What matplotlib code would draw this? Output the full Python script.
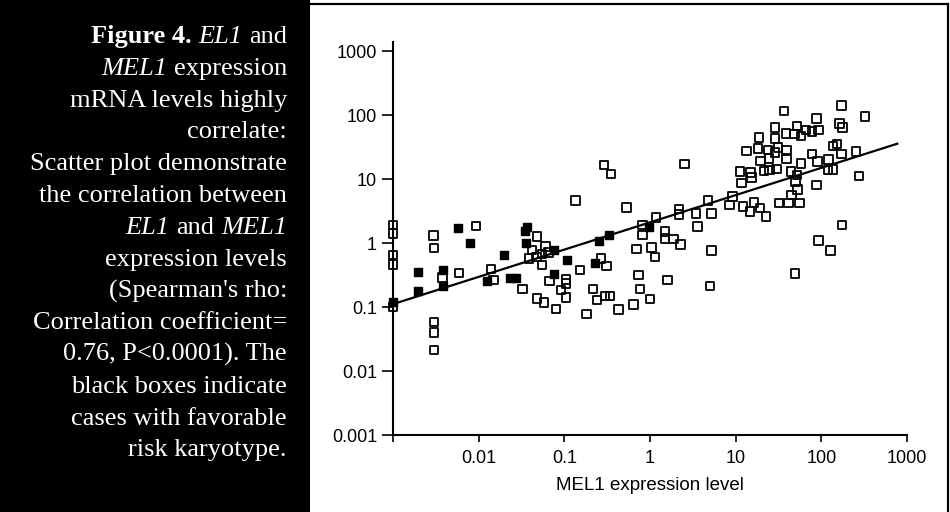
import matplotlib
matplotlib.use("Agg")
import matplotlib.pyplot as plt
from matplotlib.ticker import NullLocator
from matplotlib.lines import Line2D
from matplotlib.patches import Rectangle

# MEL1 (x) vs EL1 (y) expression, open boxes = other karyotypes
open_x = [0.001, 0.001, 0.001, 0.001, 0.001,
          0.00295, 0.0030, 0.0093, 0.0038, 0.0059,
          0.0030, 0.0030, 0.0030, 0.0139, 0.0148,
          0.292, 0.35, 0.136, 0.53, 0.82, 0.82,
          0.048, 0.042, 0.0605, 0.0386, 0.0475, 0.055, 0.065,
          0.055, 0.067, 0.105, 0.105, 0.091, 0.105, 0.0326,
          0.048, 0.058, 0.080, 0.152, 0.267, 0.312, 0.217,
          0.242, 0.30, 0.34, 0.182, 0.43, 0.64, 0.70, 0.73, 0.76,
          1.0, 1.04, 1.14, 1.49, 1.49, 1.87, 2.28, 5.2, 1.59, 5.0,
          2.51, 1.17, 2.19, 2.19, 3.43, 5.2, 3.59, 4.77,
          8.5, 9.2, 12.2, 14.7, 16.4, 19.2, 22.5,
          32, 41.5, 56, 45, 11.2, 14.9, 15.3, 11.7,
          21.3, 25, 30, 13.4, 18.3, 19.5, 23.9, 24.6, 28.7, 31.3,
          39.3, 39.3, 18.8, 28.7, 28.7, 38.8, 48.5, 58, 36.5,
          171, 323, 87.7, 51.9, 66, 78, 93, 164, 176, 152, 137,
          78, 90.6, 122, 171, 253, 120, 137, 276, 58, 44, 52,
          50, 88, 53, 175, 93, 127, 49]
open_y = [1.91, 1.42, 0.65, 0.46, 0.10,
          1.30, 0.83, 1.85, 0.29, 0.34,
          0.058, 0.040, 0.0213, 0.39, 0.264,
          16.5, 12.0, 4.6, 3.6, 1.91, 1.33,
          1.26, 0.78, 0.875, 0.577, 0.60, 0.67, 0.71,
          0.45, 0.255, 0.27, 0.234, 0.185, 0.142, 0.19,
          0.137, 0.118, 0.093, 0.38, 0.577, 0.44, 0.19,
          0.128, 0.149, 0.149, 0.078, 0.092, 0.110, 0.80, 0.316, 0.19,
          0.133, 0.845, 0.60, 1.51, 1.18, 1.15, 0.95, 0.76, 0.264, 0.213,
          17.1, 2.48, 3.4, 2.81, 2.91, 2.9, 1.80, 4.6,
          3.9, 5.3, 3.7, 3.1, 4.3, 3.5, 2.58,
          4.2, 4.2, 4.2, 5.6, 13.0, 12.7, 10.6, 8.6,
          13.3, 13.8, 14.3, 27.4, 30.1, 19.1, 28.4, 21, 26.1, 30.8,
          28.4, 20.5, 44.3, 63.4, 43.2, 51.8, 50.5, 47, 115,
          142, 94, 88.7, 67, 58, 55, 58, 74, 64, 35.2, 32.8,
          24.6, 18.7, 20.3, 24.6, 26.7, 13.8, 14.2, 11.1, 17.6, 13.0, 11.5,
          9.1, 8.1, 6.9, 1.91, 1.09, 0.76, 0.336]

# black boxes = favorable risk karyotype
fav_x = [0.001, 0.00578, 0.0079, 0.020, 0.00194, 0.0038, 0.00194,
         0.0038, 0.0124, 0.023, 0.027, 0.037, 0.035, 0.036, 0.076,
         0.106, 0.076, 0.228, 0.255, 0.33, 0.97]
fav_y = [0.118, 1.73, 0.99, 0.65, 0.35, 0.38, 0.18,
         0.21, 0.255, 0.28, 0.28, 1.76, 1.54, 0.99, 0.78,
         0.54, 0.33, 0.48, 1.07, 1.33, 1.8]

# regression line end points
fit_x = [0.001, 770]
fit_y = [0.111, 35.6]

x_ticks = [0.001, 0.01, 0.1, 1, 10, 100, 1000]
x_tick_labels = ["", "0.01", "0.1", "1", "10", "100", "1000"]
y_ticks = [0.001, 0.01, 0.1, 1, 10, 100, 1000]
y_tick_labels = ["0.001", "0.01", "0.1", "1", "10", "100", "1000"]

caption = [
    [("Figure 4.", "bold"), ("EL1", "italic"), ("and", "normal")],
    [("MEL1", "italic"), ("expression", "normal")],
    [("mRNA levels highly", "normal")],
    [("correlate:", "normal")],
    [("Scatter plot demonstrate", "normal")],
    [("the correlation between", "normal")],
    [("EL1", "italic"), ("and", "normal"), ("MEL1", "italic")],
    [("expression levels", "normal")],
    [("(Spearman's rho:", "normal")],
    [("Correlation coefficient=", "normal")],
    [("0.76, P<0.0001). The", "normal")],
    [("black boxes indicate", "normal")],
    [("cases with favorable", "normal")],
    [("risk karyotype.", "normal")],
]

W, H = 950, 512
fig = plt.figure(figsize=(W / 100, H / 100), dpi=100)
fig.patch.set_facecolor("white")

# dark caption panel on the left
fig.add_artist(Rectangle((0, 0), 310 / W, 1, transform=fig.transFigure,
                         facecolor="black", edgecolor="none"))
# frame lines top and right
fig.add_artist(Line2D([310 / W, 948 / W], [1 - 3.5 / H, 1 - 3.5 / H],
                      transform=fig.transFigure, color="black", lw=1.6))
fig.add_artist(Line2D([948 / W, 948 / W], [0, 1 - 3.5 / H],
                      transform=fig.transFigure, color="black", lw=1.6))

ax = fig.add_axes([393 / W, 77 / H, (907 - 393) / W, (435 - 42) / H])
ax.set_xscale("log")
ax.set_yscale("log")

ax.plot(fit_x, fit_y, color="black", lw=1.6, zorder=2)
ax.scatter(open_x, open_y, marker="s", s=38, facecolors="none",
           edgecolors="black", linewidths=1.3, clip_on=False, zorder=3)
ax.scatter(fav_x, fav_y, marker="s", s=30, facecolors="black",
           edgecolors="black", linewidths=1.0, clip_on=False, zorder=4)

ax.set_xlim(0.001, 1000)
ax.set_ylim(0.001, 10 ** (3 + 9 / 64))
for s in ["top", "right"]:
    ax.spines[s].set_visible(False)
for s in ["left", "bottom"]:
    ax.spines[s].set_linewidth(1.5)

ax.set_xticks(x_ticks)
ax.set_xticklabels(x_tick_labels)
ax.set_yticks(y_ticks)
ax.set_yticklabels(y_tick_labels)
ax.xaxis.set_minor_locator(NullLocator())
ax.yaxis.set_minor_locator(NullLocator())
ax.tick_params(axis="x", direction="out", length=5, width=1.2, pad=6,
               labelsize=13)
ax.tick_params(axis="y", direction="out", length=8, width=1.2, pad=3.5,
               labelsize=13)
for lab in ax.get_xticklabels() + ax.get_yticklabels():
    lab.set_fontfamily("Liberation Sans")

ax.set_xlabel("MEL1 expression level", fontsize=13.5,
              fontfamily="Liberation Sans", labelpad=7)

# caption, right aligned, built word group by word group
fig.canvas.draw()
renderer = fig.canvas.get_renderer()
cap_size = 19
space_px = cap_size * 100 / 72 * 0.25
for i, line in enumerate(caption):
    y = 1 - (43 + 31.8 * i) / H
    x_right = 287
    for text, style in reversed(line):
        t = fig.text(x_right / W, y, text, ha="right", va="baseline",
                     color="white", fontsize=cap_size,
                     fontfamily="Liberation Serif",
                     fontweight="bold" if style == "bold" else "normal",
                     fontstyle="italic" if style == "italic" else "normal")
        bb = t.get_window_extent(renderer)
        x_right = bb.x0 - space_px

fig.savefig("out.png", dpi=100)
